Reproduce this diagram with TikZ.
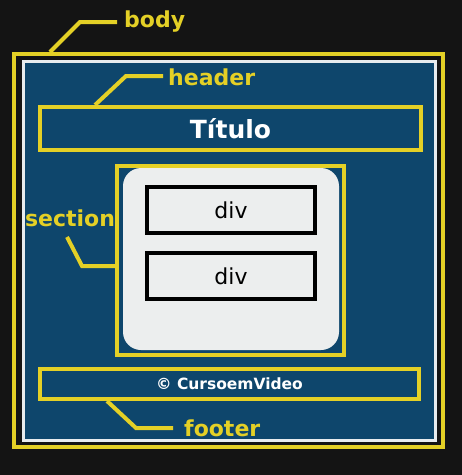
\documentclass[tikz,border=0pt]{standalone}
\usepackage{fontspec}
\setmainfont{DejaVu Sans}
\definecolor{bgblack}{RGB}{20,20,20}
\definecolor{htmlyellow}{RGB}{228,208,38}
\definecolor{htmlblue}{RGB}{14,70,108}
\definecolor{panelwhite}{RGB}{236,238,238}
\definecolor{borderwhite}{RGB}{232,236,238}
\tikzset{
  ybox/.style={draw=htmlyellow, line width=4pt, inner sep=0pt},
  ylabel/.style={text=htmlyellow, font=\bfseries\fontsize{22}{22}\selectfont, inner sep=0pt},
  yline/.style={draw=htmlyellow, line width=4pt, line join=miter},
  divbox/.style={draw=black, line width=4pt, fill=panelwhite, inner sep=0pt, minimum width=168pt, minimum height=46pt, font=\fontsize{22}{22}\selectfont},
}
\begin{document}
\begin{tikzpicture}[x=1pt,y=-1pt]
  \path[use as bounding box, fill=bgblack] (0,0) rectangle (462,475);
  % body
  \node[ybox, minimum width=429pt, minimum height=393pt] (body) at (228.5,250.5) {};
  \node[draw=borderwhite, line width=3pt, fill=htmlblue, inner sep=0pt, minimum width=412pt, minimum height=379pt] (bodyinner) at (229.5,251) {};
  % header
  \node[ybox, minimum width=381pt, minimum height=43pt, text=white, font=\bfseries\fontsize{25}{25}\selectfont] (header) at (230.5,128.5) {Título};
  % section
  \node[ybox, minimum width=227pt, minimum height=189pt] (section) at (230.5,260.5) {};
  \node[fill=panelwhite, rounded corners=18pt, inner sep=0pt, minimum width=216pt, minimum height=182pt] (sectioninner) at (231,259) {};
  \node[divbox] (div1) at (231,210) {div};
  \node[divbox] (div2) at (231,276) {div};
  % footer
  \node[ybox, minimum width=379pt, minimum height=30pt, text=white, font=\bfseries\fontsize{15.5}{15.5}\selectfont] (footer) at (229.5,384) {© CursoemVideo};
  % labels
  \node[ylabel, anchor=west] (bodylabel) at (124,22) {body};
  \node[ylabel, anchor=west] (headerlabel) at (168,77) {header};
  \node[ylabel] (sectionlabel) at (70,218) {section};
  \node[ylabel, anchor=west] (footerlabel) at (184,428) {footer};
  % connector coordinates
  \coordinate (bodyA) at (50,52);
  \coordinate (bodyB) at (80,22);
  \coordinate (bodyC) at (117,22);
  \coordinate (headA) at (95,105);
  \coordinate (headB) at (126,76);
  \coordinate (headC) at (163,76);
  \coordinate (secA) at (67,237);
  \coordinate (secB) at (82,266);
  \coordinate (secC) at (115,266);
  \coordinate (footA) at (107,401);
  \coordinate (footB) at (136,428);
  \coordinate (footC) at (173,428);
  \draw[yline] (bodyA) -- (bodyB) -- (bodyC);
  \draw[yline] (headA) -- (headB) -- (headC);
  \draw[yline] (secA) -- (secB) -- (secC);
  \draw[yline] (footA) -- (footB) -- (footC);
\end{tikzpicture}
\end{document}
